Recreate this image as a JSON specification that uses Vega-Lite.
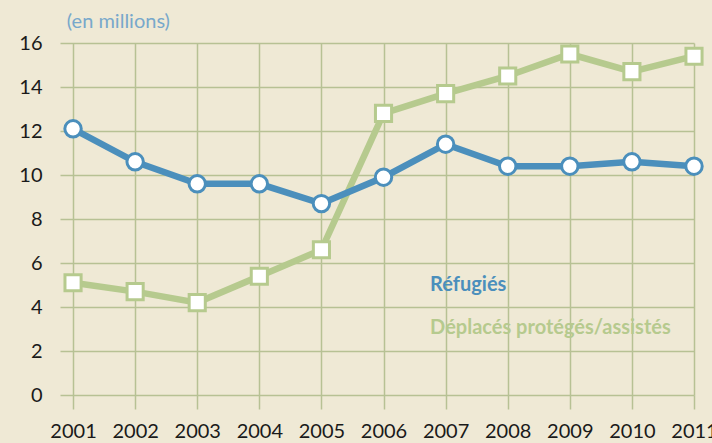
{
  "$schema": "https://vega.github.io/schema/vega-lite/v6.json",
  "width": 634,
  "height": 352,
  "autosize": {"type": "none"},
  "padding": {"left": 60, "top": 43, "right": 18, "bottom": 48},
  "background": "#efe9d5",
  "config": {
    "view": {"stroke": null},
    "font": "Lato",
    "axis": {"domain": false, "gridColor": "#b7c194", "gridWidth": 1.5, "gridOpacity": 1, "labelFont": "Lato", "labelFontSize": 20, "labelColor": "#1a1a1a", "labelOverlap": false, "labelBound": false, "labelFlush": false}
  },
  "datasets": {
    "series": [
      {"annee": 2001, "serie": "Réfugiés", "valeur": 12.1},
      {"annee": 2002, "serie": "Réfugiés", "valeur": 10.6},
      {"annee": 2003, "serie": "Réfugiés", "valeur": 9.6},
      {"annee": 2004, "serie": "Réfugiés", "valeur": 9.6},
      {"annee": 2005, "serie": "Réfugiés", "valeur": 8.7},
      {"annee": 2006, "serie": "Réfugiés", "valeur": 9.9},
      {"annee": 2007, "serie": "Réfugiés", "valeur": 11.4},
      {"annee": 2008, "serie": "Réfugiés", "valeur": 10.4},
      {"annee": 2009, "serie": "Réfugiés", "valeur": 10.4},
      {"annee": 2010, "serie": "Réfugiés", "valeur": 10.6},
      {"annee": 2011, "serie": "Réfugiés", "valeur": 10.4},
      {"annee": 2001, "serie": "Déplacés", "valeur": 5.1},
      {"annee": 2002, "serie": "Déplacés", "valeur": 4.7},
      {"annee": 2003, "serie": "Déplacés", "valeur": 4.2},
      {"annee": 2004, "serie": "Déplacés", "valeur": 5.4},
      {"annee": 2005, "serie": "Déplacés", "valeur": 6.6},
      {"annee": 2006, "serie": "Déplacés", "valeur": 12.8},
      {"annee": 2007, "serie": "Déplacés", "valeur": 13.7},
      {"annee": 2008, "serie": "Déplacés", "valeur": 14.5},
      {"annee": 2009, "serie": "Déplacés", "valeur": 15.5},
      {"annee": 2010, "serie": "Déplacés", "valeur": 14.7},
      {"annee": 2011, "serie": "Déplacés", "valeur": 15.4}
    ],
    "labels": [
      {"annee": 2006.75, "valeur": 5.0, "texte": "Réfugiés", "serie": "Réfugiés"},
      {"annee": 2006.75, "valeur": 3.05, "texte": "Déplacés protégés/assistés", "serie": "Déplacés"}
    ],
    "unit": [{"annee": 2000.9, "valeur": 16.95, "texte": "(en millions)"}]
  },
  "layer": [
    {
      "data": {"name": "series"},
      "transform": [{"filter": "datum.serie === 'Déplacés'"}],
      "mark": {"type": "line", "color": "#b6ca8e", "strokeWidth": 6.5},
      "encoding": {
        "x": {"field": "annee", "type": "quantitative", "scale": {"domain": [2000.79, 2011], "nice": false, "zero": false},
              "axis": {"title": null, "values": [2001,2002,2003,2004,2005,2006,2007,2008,2009,2010,2011], "format": "d", "tickSize": 14, "tickColor": "#b7c194", "tickWidth": 1.5, "labelPadding": 12}},
        "y": {"field": "valeur", "type": "quantitative", "scale": {"domain": [0, 16], "nice": false},
              "axis": {"title": null, "values": [0,2,4,6,8,10,12,14,16], "ticks": false, "labelPadding": 18}}
      }
    },
    {
      "data": {"name": "series"},
      "transform": [{"filter": "datum.serie === 'Déplacés'"}],
      "mark": {"type": "point", "shape": "square", "filled": true, "fill": "#ffffff", "stroke": "#b6ca8e", "strokeWidth": 3, "size": 260, "opacity": 1},
      "encoding": {
        "x": {"field": "annee", "type": "quantitative"},
        "y": {"field": "valeur", "type": "quantitative"}
      }
    },
    {
      "data": {"name": "series"},
      "transform": [{"filter": "datum.serie === 'Réfugiés'"}],
      "mark": {"type": "line", "color": "#4b8fbc", "strokeWidth": 6.5},
      "encoding": {
        "x": {"field": "annee", "type": "quantitative"},
        "y": {"field": "valeur", "type": "quantitative"}
      }
    },
    {
      "data": {"name": "series"},
      "transform": [{"filter": "datum.serie === 'Réfugiés'"}],
      "mark": {"type": "point", "shape": "circle", "filled": true, "fill": "#ffffff", "stroke": "#4b8fbc", "strokeWidth": 3, "size": 270, "opacity": 1},
      "encoding": {
        "x": {"field": "annee", "type": "quantitative"},
        "y": {"field": "valeur", "type": "quantitative"}
      }
    },
    {
      "data": {"name": "labels"},
      "mark": {"type": "text", "align": "left", "baseline": "middle", "fontSize": 20, "fontWeight": "bold", "font": "Lato"},
      "encoding": {
        "x": {"field": "annee", "type": "quantitative"},
        "y": {"field": "valeur", "type": "quantitative"},
        "text": {"field": "texte"},
        "color": {"field": "serie", "type": "nominal", "scale": {"domain": ["Réfugiés", "Déplacés"], "range": ["#4b8fbc", "#b6ca8e"]}, "legend": null}
      }
    },
    {
      "data": {"name": "unit"},
      "mark": {"type": "text", "align": "left", "baseline": "middle", "fontSize": 20, "color": "#78a8cb", "font": "Lato"},
      "encoding": {
        "x": {"field": "annee", "type": "quantitative"},
        "y": {"field": "valeur", "type": "quantitative"},
        "text": {"field": "texte"}
      }
    }
  ]
}
